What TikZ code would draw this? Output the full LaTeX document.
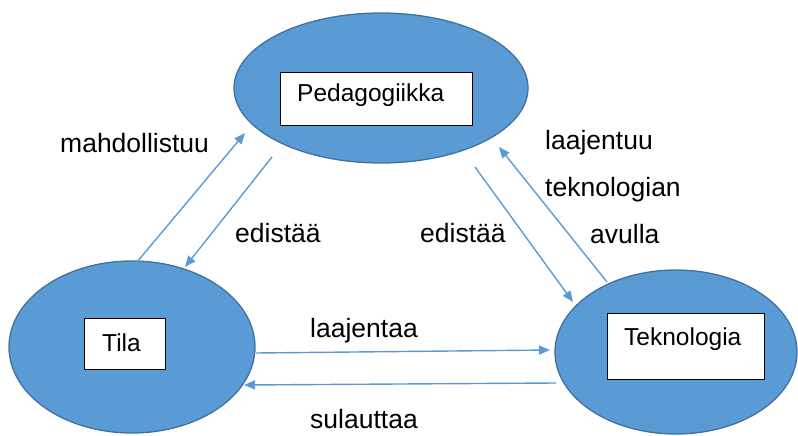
\documentclass[tikz,border=0pt]{standalone}
\usepackage{fontspec}
\setmainfont{Liberation Sans}
\usetikzlibrary{shapes.geometric,arrows.meta}
\definecolor{blobfill}{HTML}{5B9BD5}
\definecolor{blobline}{HTML}{41719C}
\definecolor{arrowblue}{HTML}{5B9BD5}
\begin{document}
\begin{tikzpicture}[x=1pt,y=-1pt,
  blob/.style={ellipse,draw=blobline,fill=blobfill,line width=1.3pt,inner sep=0pt},
  labelbox/.style={draw=black,fill=white,line width=0.9pt},
  boxtext/.style={font=\fontsize{24.5}{28}\selectfont,anchor=base west,inner sep=0pt},
  lbl/.style={font=\fontsize{26.5}{30}\selectfont,anchor=base west,inner sep=0pt},
  conn/.style={draw=arrowblue,line width=1.4pt,-{Triangle[length=11pt,width=9pt]}}]
\useasboundingbox (0,0) rectangle (798,436);
% ellipses
\node[blob,minimum width=294pt,minimum height=150pt] (ped) at (381,88) {};
\node[blob,minimum width=246pt,minimum height=172pt] (tila) at (132,347) {};
\node[blob,minimum width=242pt,minimum height=164pt] (tek) at (676,352) {};
% boxes
\draw[labelbox] (280,72) rectangle (472,125);
\draw[labelbox] (84,318) rectangle (165,369);
\draw[labelbox] (607,313) rectangle (764,379);
\node[boxtext] (tped) at (297,102) {Pedagogiikka};
\node[boxtext] (ttila) at (102,351) {Tila};
\node[boxtext] (ttek) at (624,345) {Teknologia};
% arrow ends
\coordinate (a1s) at (137,262); \coordinate (a1e) at (245,133);
\coordinate (a2s) at (272,157); \coordinate (a2e) at (185,267);
\coordinate (a3s) at (475,167); \coordinate (a3e) at (573,302);
\coordinate (a4s) at (607,282); \coordinate (a4e) at (499,147);
\coordinate (a5s) at (256,353); \coordinate (a5e) at (550,350);
\coordinate (a6s) at (556,383); \coordinate (a6e) at (244,385);
\draw[conn] (a1s) -- (a1e);
\draw[conn] (a2s) -- (a2e);
\draw[conn] (a3s) -- (a3e);
\draw[conn] (a4s) -- (a4e);
\draw[conn] (a5s) -- (a5e);
\draw[conn] (a6s) -- (a6e);
% labels
\node[lbl] (l1) at (60,152) {mahdollistuu};
\node[lbl] (l2) at (235,242) {edistää};
\node[lbl] (l3) at (420,242) {edistää};
\node[lbl] (l4) at (545,149) {laajentuu};
\node[lbl] (l5) at (545,196) {teknologian};
\node[lbl] (l6) at (590,243) {avulla};
\node[lbl] (l7) at (310,337) {laajentaa};
\node[lbl] (l8) at (310,428) {sulauttaa};
\end{tikzpicture}
\end{document}
